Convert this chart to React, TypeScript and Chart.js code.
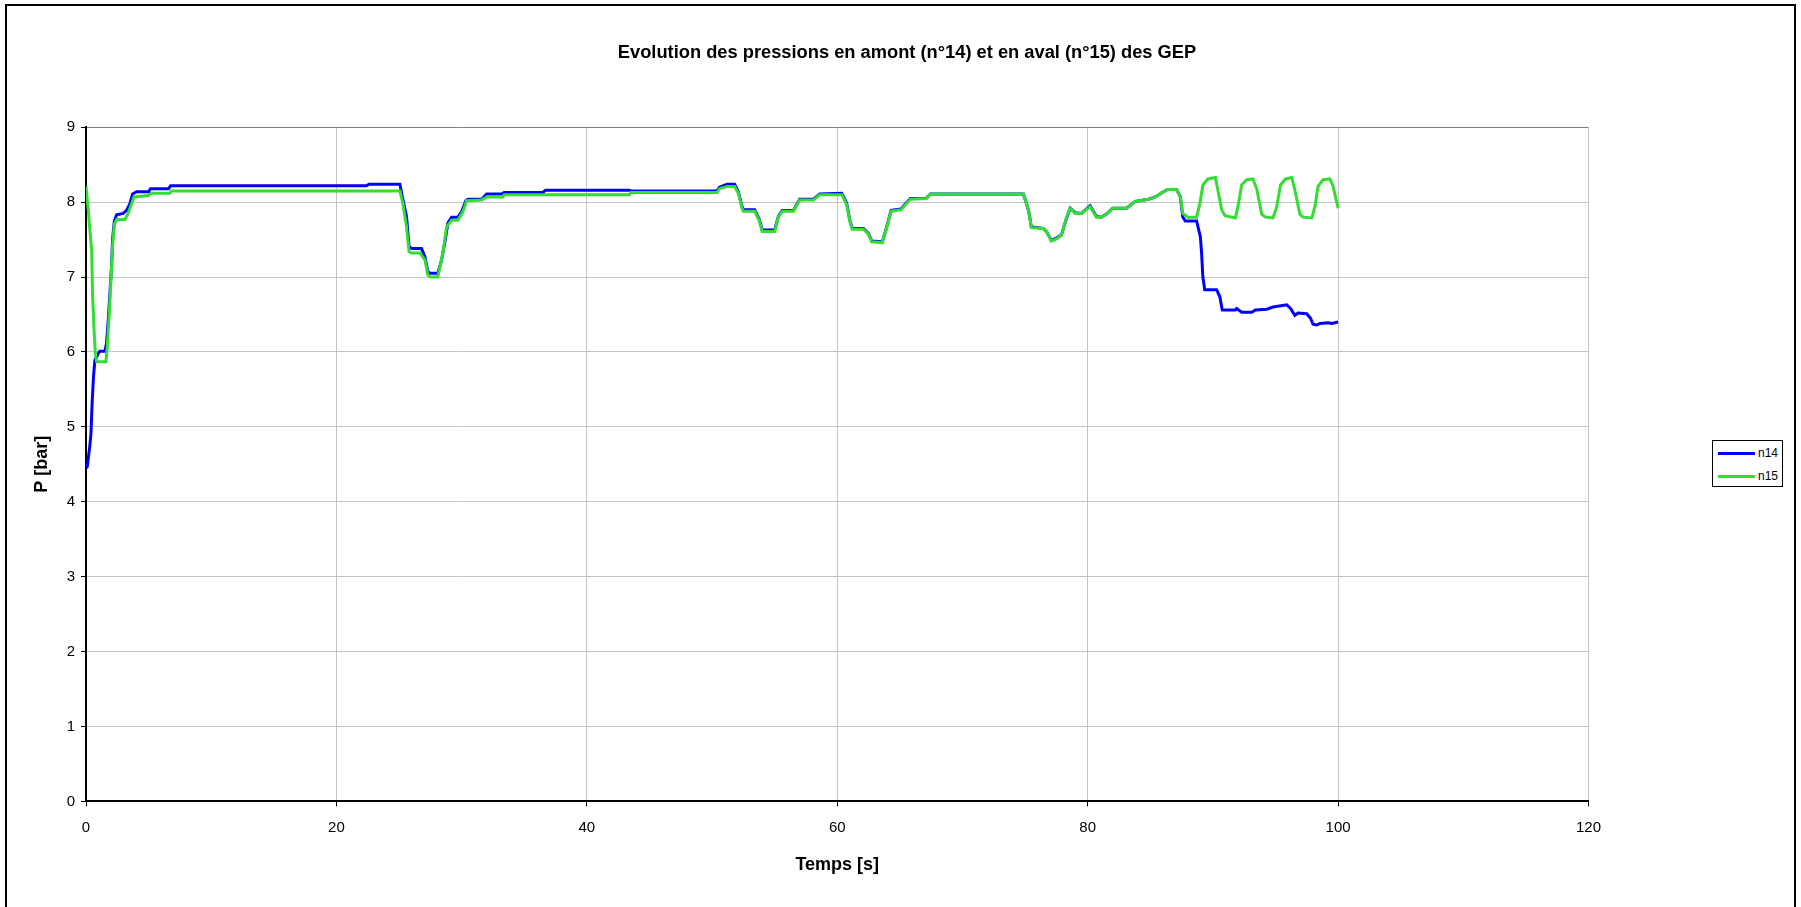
import React, { useEffect, useRef } from 'react';
import { Chart, registerables } from 'chart.js';

Chart.register(...registerables);

// ---- Data ----
const chartTitle = 'Evolution des pressions en amont (n°14) et en aval (n°15) des GEP';
const xAxisTitle = 'Temps [s]';
const yAxisTitle = 'P [bar]';
const seriesNames = ['n14', 'n15'];

const xMin = 0;
const xMax = 120;
const xStep = 20;
const yMin = 0;
const yMax = 9;
const yStep = 1;

const n14Time = [
  0, 0.1, 0.3, 0.4, 0.5, 0.6, 0.71, 0.98, 1.1, 1.51, 1.64, 1.78, 1.91, 2.04, 2.12, 2.26, 2.44, 2.97, 3.24, 3.51,
  3.72, 4.04, 5.0, 5.15, 6.6, 6.75, 22.4, 22.6, 25.07, 25.3, 25.6, 25.8, 26.0, 26.8, 27.07, 27.3, 27.5, 28.1, 28.4,
  28.7, 28.9, 29.2, 29.7, 30.0, 30.34, 30.5, 31.6, 32.0, 33.2, 33.4, 36.5, 36.7, 43.4, 43.5, 50.4, 50.6, 51.2, 51.8,
  52.1, 52.4, 52.5, 53.4, 53.8, 54.0, 55.0, 55.3, 55.6, 56.5, 57.0, 58.1, 58.6, 60.35, 60.6, 60.75, 61.0, 61.2, 62.1,
  62.5, 62.75, 63.6, 63.95, 64.3, 65.1, 65.5, 65.85, 67.1, 67.45, 74.86, 75.1, 75.3, 75.5, 76.45, 76.7, 77.1, 77.5,
  77.9, 78.3, 78.6, 79.0, 79.5, 80.2, 80.7, 81.1, 81.5, 82.0, 83.1, 83.8, 84.85, 85.4, 86.05, 86.4, 87.1, 87.4, 87.6,
  87.8, 88.7, 89.0, 89.1, 89.2, 89.35, 90.3, 90.55, 90.75, 91.8, 91.9, 92.3, 93.1, 93.4, 94.3, 94.8, 95.9, 96.2,
  96.55, 96.8, 97.5, 97.8, 98.0, 98.3, 98.55, 99.2, 99.5, 100,
];
const n14Pressure = [
  4.45, 4.47, 4.74, 4.92, 5.36, 5.67, 5.89, 5.98, 6.01, 6.01, 6.12, 6.43, 6.79, 7.14, 7.5, 7.74, 7.83, 7.85, 7.89, 7.98,
  8.11, 8.14, 8.14, 8.18, 8.18, 8.22, 8.22, 8.24, 8.24, 8.04, 7.81, 7.41, 7.38, 7.38, 7.27, 7.07, 7.05, 7.05, 7.23,
  7.5, 7.72, 7.8, 7.8, 7.87, 8.02, 8.04, 8.04, 8.11, 8.11, 8.13, 8.13, 8.16, 8.16, 8.15, 8.15, 8.2, 8.24, 8.24,
  8.14, 7.94, 7.9, 7.9, 7.76, 7.63, 7.63, 7.81, 7.89, 7.89, 8.04, 8.04, 8.11, 8.12, 8.04, 7.99, 7.76, 7.65, 7.65,
  7.58, 7.48, 7.47, 7.67, 7.89, 7.91, 7.99, 8.05, 8.05, 8.11, 8.11, 7.99, 7.87, 7.67, 7.65, 7.61, 7.49, 7.52,
  7.56, 7.78, 7.92, 7.86, 7.85, 7.95, 7.81, 7.8, 7.84, 7.92, 7.92, 8.01, 8.04, 8.07, 8.14, 8.17, 8.17, 8.07, 7.8,
  7.75, 7.75, 7.54, 7.32, 7.0, 6.83, 6.83, 6.74, 6.56, 6.56, 6.58, 6.53, 6.53, 6.56, 6.57, 6.6, 6.63, 6.58,
  6.49, 6.52, 6.51, 6.45, 6.37, 6.36, 6.38, 6.39, 6.38, 6.4,
];

const n15Time = [
  0, 0.1, 0.18, 0.31, 0.45, 0.52, 0.63, 0.74, 0.85, 1.59, 1.7, 1.86, 1.99, 2.12, 2.26, 2.44, 3.11, 3.37, 3.64, 3.83,
  4.97, 5.24, 6.7, 6.84, 25.07, 25.3, 25.6, 25.8, 26.0, 26.67, 27.07, 27.3, 27.5, 28.1, 28.5, 28.8, 29.2, 29.7, 30.1,
  30.4, 31.6, 32.0, 33.3, 33.4, 43.4, 43.5, 50.4, 50.6, 51.2, 51.8, 52.1, 52.4, 52.5, 53.4, 53.8, 54.0, 55.0, 55.3,
  55.6, 56.5, 57.0, 58.1, 58.6, 60.35, 60.6, 60.75, 61.0, 61.2, 62.1, 62.5, 62.75, 63.6, 63.95, 64.3, 65.1, 65.5,
  65.85, 67.1, 67.45, 74.86, 75.1, 75.3, 75.5, 76.45, 76.7, 77.1, 77.5, 77.9, 78.3, 78.6, 79.0, 79.5, 80.2, 80.7,
  81.1, 81.5, 82.0, 83.1, 83.8, 84.85, 85.4, 86.05, 86.4, 87.1, 87.4, 87.6, 88.0, 88.7, 88.97, 89.2, 89.6, 90.2, 90.4,
  90.7, 90.97, 91.8, 92.0, 92.3, 92.7, 93.2, 93.5, 93.9, 94.2, 94.8, 95.1, 95.4, 95.8, 96.3, 96.55, 96.95, 97.2, 97.9,
  98.15, 98.4, 98.8, 99.35, 99.6, 100,
];
const n15Pressure = [
  8.21, 8.03, 7.9, 7.63, 7.36, 6.79, 6.34, 5.99, 5.87, 5.87, 6.07, 6.52, 6.96, 7.41, 7.7, 7.77, 7.77, 7.85, 7.98, 8.07,
  8.09, 8.12, 8.12, 8.15, 8.15, 7.99, 7.67, 7.34, 7.32, 7.32, 7.23, 7.03, 7.0, 7.0, 7.32, 7.67, 7.76, 7.76, 7.87,
  8.02, 8.03, 8.07, 8.07, 8.1, 8.1, 8.13, 8.13, 8.18, 8.21, 8.21, 8.12, 7.92, 7.88, 7.88, 7.74, 7.61, 7.61, 7.8,
  7.88, 7.88, 8.03, 8.03, 8.1, 8.1, 8.02, 7.97, 7.75, 7.64, 7.64, 7.57, 7.47, 7.46, 7.66, 7.88, 7.9, 7.98,
  8.04, 8.05, 8.11, 8.11, 7.99, 7.87, 7.66, 7.65, 7.61, 7.48, 7.51, 7.56, 7.79, 7.92, 7.85, 7.85, 7.94, 7.8,
  7.8, 7.84, 7.92, 7.92, 8.01, 8.04, 8.07, 8.14, 8.17, 8.17, 8.07, 7.85, 7.8, 7.8, 7.99, 8.23, 8.31, 8.33, 8.16,
  7.9, 7.82, 7.79, 7.94, 8.23, 8.3, 8.31, 8.18, 7.84, 7.8, 7.79, 7.94, 8.23, 8.31, 8.33, 8.16, 7.84, 7.8, 7.79,
  7.94, 8.21, 8.3, 8.31, 8.21, 7.92,
];

const seriesColors = ['#0000ff', '#33dd33'];

const FONT = '"Liberation Sans", Arial, Helvetica, sans-serif';

export default function App() {
  const canvasRef = useRef<HTMLCanvasElement | null>(null);

  useEffect(() => {
    const canvas = canvasRef.current;
    if (!canvas) return;
    const toPoints = (xs: number[], ys: number[]) => xs.map((x, i) => ({ x, y: ys[i] }));

    const chart = new Chart(canvas, {
      type: 'line',
      data: {
        datasets: [
          {
            label: seriesNames[0],
            data: toPoints(n14Time, n14Pressure),
            borderColor: seriesColors[0],
            backgroundColor: seriesColors[0],
            borderWidth: 3,
            pointRadius: 0,
            tension: 0,
            fill: false,
            order: 1,
            yAxisID: 'y',
          },
          {
            label: seriesNames[1],
            data: toPoints(n15Time, n15Pressure),
            borderColor: seriesColors[1],
            backgroundColor: seriesColors[1],
            borderWidth: 3,
            pointRadius: 0,
            tension: 0,
            fill: false,
            order: 0,
            yAxisID: 'y',
          },
        ],
      },
      options: {
        responsive: false,
        maintainAspectRatio: false,
        animation: false,
        devicePixelRatio: 1,
        layout: { padding: { left: 13, right: 0, top: 0, bottom: 0 } },
        plugins: {
          legend: { display: false },
          tooltip: { enabled: false },
          title: {
            display: true,
            text: chartTitle,
            color: '#000',
            font: { family: FONT, size: 18.3, weight: 'bold', lineHeight: 1.2 },
            padding: { top: 41.7, bottom: 63.6 },
          },
        },
        scales: {
          x: {
            type: 'linear',
            min: xMin,
            max: xMax,
            ticks: {
              stepSize: xStep,
              color: '#000',
              font: { family: FONT, size: 15 },
              padding: 12,
              maxRotation: 0,
            },
            grid: { color: '#c4c4c4', lineWidth: 1, tickLength: 5, tickColor: '#000' },
            border: { display: true, color: '#000', width: 2 },
            title: {
              display: true,
              text: xAxisTitle,
              color: '#000',
              font: { family: FONT, size: 18, weight: 'bold', lineHeight: 1.2 },
              padding: { top: 0, bottom: 31 },
            },
            afterFit: (scale: any) => {
              scale.height = 105.6;
            },
          },
          y: {
            type: 'linear',
            position: 'left',
            min: yMin,
            max: yMax,
            ticks: {
              stepSize: yStep,
              color: '#000',
              font: { family: FONT, size: 15 },
              padding: 6,
            },
            grid: {
              color: (ctx: any) => (ctx.tick && ctx.tick.value === yMax ? '#808080' : '#c4c4c4'),
              lineWidth: 1,
              tickLength: 5,
              tickColor: '#000',
            },
            border: { display: true, color: '#000', width: 2 },
            title: {
              display: true,
              text: yAxisTitle,
              color: '#000',
              font: { family: FONT, size: 18, weight: 'bold', lineHeight: 1.2 },
              padding: { top: 18.2, bottom: 0 },
            },
            afterFit: (scale: any) => {
              scale.width = 73;
            },
          },
          legendSpace: {
            type: 'linear',
            position: 'right',
            display: true,
            ticks: { display: false },
            grid: { display: false, drawTicks: false },
            border: { display: false },
            afterFit: (scale: any) => {
              scale.width = 212.5;
            },
          },
        },
      },
    } as any);

    return () => {
      chart.destroy();
    };
  }, []);

  const legendItemStyle = (top: number): React.CSSProperties => ({
    position: 'absolute',
    left: 1718,
    top: top - 8,
    height: 16,
    display: 'flex',
    alignItems: 'center',
  });

  return (
    <div
      style={{
        position: 'absolute',
        left: 0,
        top: 0,
        width: 1801,
        height: 907,
        overflow: 'hidden',
        background: '#fff',
      }}
    >
      <canvas
        ref={canvasRef}
        width={1801}
        height={907}
        style={{ position: 'absolute', left: 0, top: 0, width: 1801, height: 907, display: 'block' }}
      />
      <div
        style={{
          position: 'absolute',
          left: 1712,
          top: 440,
          width: 71,
          height: 47,
          border: '1.5px solid #000',
          boxSizing: 'border-box',
          background: '#fff',
        }}
      />
      {seriesNames.map((name, i) => (
        <div key={name} style={legendItemStyle(453 + i * 23)}>
          <div style={{ width: 37, height: 3, background: seriesColors[i] }} />
          <span style={{ marginLeft: 3, fontFamily: FONT, fontSize: 12, color: '#000', lineHeight: '16px' }}>
            {name}
          </span>
        </div>
      ))}
      <div
        style={{
          position: 'absolute',
          left: 5,
          top: 4,
          width: 1791,
          height: 1000,
          border: '2.5px solid #000',
          boxSizing: 'border-box',
          pointerEvents: 'none',
        }}
      />
    </div>
  );
}
